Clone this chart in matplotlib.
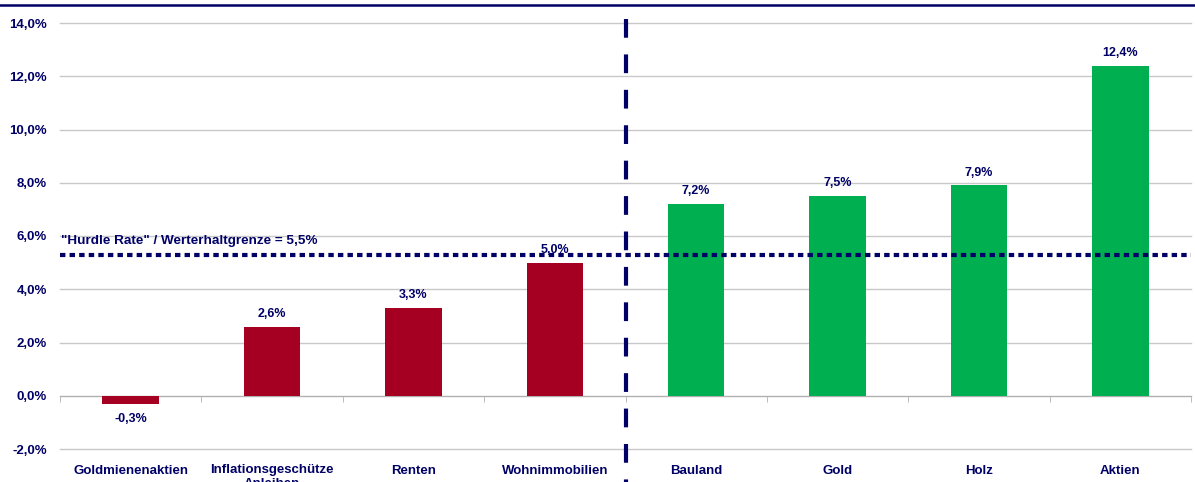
import matplotlib.pyplot as plt
from matplotlib.lines import Line2D

# Werte aus dem Diagramm (reale Rendite p.a. in %)
kategorien = ['Goldmienenaktien', 'Inflationsgeschütze\nAnleihen', 'Renten', 'Wohnimmobilien',
              'Bauland', 'Gold', 'Holz', 'Aktien']
werte = [-0.3, 2.6, 3.3, 5.0, 7.2, 7.5, 7.9, 12.4]
farben = ['#A50021'] * 4 + ['#00B050'] * 4
hurdle = 5.3
hurdle_text = '"Hurdle Rate" / Werterhaltgrenze = 5,5%'
yticks = [-2, 0, 2, 4, 6, 8, 10, 12, 14]

navy = '#000066'
plt.rcParams['font.family'] = ['Liberation Sans', 'DejaVu Sans']
plt.rcParams['font.weight'] = 'bold'

fig = plt.figure(figsize=(11.95, 4.82), dpi=100)
ax = fig.add_axes([60 / 1195, 33 / 482, 1131 / 1195, 426 / 482])

x = list(range(len(kategorien)))
ax.bar(x, werte, width=0.4, color=farben, zorder=3)

# Wertebeschriftungen
for xi, v in zip(x, werte):
    txt = f'{v:.1f}%'.replace('.', ',')
    if v >= 0:
        ax.text(xi, v + 0.25, txt, ha='center', va='bottom', color=navy,
                fontsize=9, fontweight='bold', zorder=5)
    else:
        ax.text(xi, v - 0.35, txt, ha='center', va='top', color=navy,
                fontsize=9, fontweight='bold', zorder=5)

# Achsen
ax.set_xlim(-0.5, len(kategorien) - 0.5)
ax.set_ylim(-2, 14)
ax.set_yticks(yticks)
ax.set_yticklabels([f'{t:.1f}%'.replace('.', ',') for t in yticks])
ax.grid(axis='y', color='#C8C8C8', linewidth=1, zorder=0)
for gl in ax.get_ygridlines():
    gl.set_clip_on(False)
ax.tick_params(axis='y', length=0, pad=9.5, labelsize=9.5, labelcolor=navy)

ax.spines['bottom'].set_position(('data', 0))
ax.spines['bottom'].set_color('#B0B0B0')
for s in ['top', 'right', 'left']:
    ax.spines[s].set_visible(False)

ax.set_xticks(x)
ax.set_xticklabels(kategorien, linespacing=1.15)
ax.set_xticks([i - 0.5 for i in range(len(kategorien) + 1)], minor=True)
ax.tick_params(axis='x', which='major', length=0, pad=49.5, labelsize=9.5, labelcolor=navy)
ax.tick_params(axis='x', which='minor', length=4, color='#B0B0B0')
for lbl in ax.get_xticklabels():
    lbl.set_verticalalignment('top')

# Hurdle Rate Linie
ax.axhline(hurdle, color=navy, linewidth=3, linestyle=(0, (1.3, 1.0)), zorder=4)
ax.text(-0.49, hurdle + 0.3, hurdle_text, ha='left', va='bottom', color=navy,
        fontsize=9.7, fontweight='bold', zorder=5)

# Trennlinie zwischen den Gruppen (von oben nach unten gezeichnet)
ax.plot([3.5, 3.5], [14.15, -3.5], color=navy, linewidth=3,
        linestyle=(0, (4.5, 4)), clip_on=False, zorder=4)

# Linie am oberen Rand
fig.add_artist(Line2D([0, 1], [1 - 5 / 482, 1 - 5 / 482], color=navy, linewidth=1.8))

fig.savefig('out.png', dpi=100)
